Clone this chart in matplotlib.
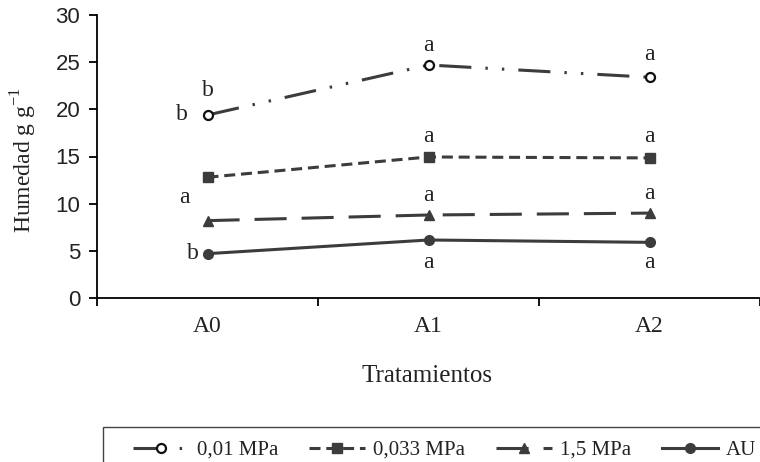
import matplotlib
matplotlib.use('Agg')
import matplotlib.pyplot as plt
from matplotlib.patches import Rectangle

tratamientos = ["A0", "A1", "A2"]
mpa_001 = [19.4, 24.7, 23.4]
mpa_0033 = [12.8, 14.95, 14.85]
mpa_15 = [8.2, 8.8, 9.0]
au = [4.7, 6.15, 5.9]

# significance letters: (x offset from category, category index, y, text)
letras = [
    (0.0, 0, 22.0, "b"), (-0.117, 0, 19.4, "b"), (-0.104, 0, 10.7, "a"), (-0.065, 0, 4.75, "b"),
    (0.0, 1, 26.8, "a"), (0.0, 1, 17.1, "a"), (0.0, 1, 10.9, "a"), (0.0, 1, 3.8, "a"),
    (0.0, 2, 25.8, "a"), (0.0, 2, 17.1, "a"), (0.0, 2, 11.1, "a"), (0.0, 2, 3.8, "a"),
]

gris = "#3c3c3c"
serif = "Liberation Serif"
sans = "Liberation Sans"

fig = plt.figure(figsize=(7.6, 4.62), dpi=100)
ax = fig.add_axes([97 / 760, 164 / 462, 1 - 97 / 760, 283 / 462])

xs = [0.5, 1.5, 2.5]
lw = 2.2
ax.plot(xs, mpa_001, color=gris, lw=lw, ls=(0, (10.5, 4.6, 0.8, 4.6, 0.8, 4.6)),
        marker="o", mfc="white", mec="#111111", mew=1.6, ms=6.5, label="0,01 MPa")
ax.plot(xs, mpa_0033, color=gris, lw=lw, ls=(0, (3.6, 1.9)),
        marker="s", mfc=gris, mec=gris, ms=6.5, label="0,033 MPa")
ax.plot(xs, mpa_15, color=gris, lw=lw, ls=(0, (10.5, 4.9)),
        marker="^", mfc=gris, mec=gris, ms=6.5, label="1,5 MPa")
ax.plot(xs, au, color=gris, lw=lw, ls="-",
        marker="o", mfc=gris, mec=gris, ms=7, label="AU")

for dx, i, y, t in letras:
    ax.text(xs[i] + dx, y, t, ha="center", va="center",
            fontsize=17, family=serif, color="#222222")

ax.set_xlim(0, 663 / 230)
ax.set_ylim(0, 30)
ax.set_yticks(range(0, 31, 5))
ax.set_xticks([0, 1, 2, 3])
ax.set_xticklabels([])
ax.set_xticks(xs, minor=True)
ax.set_xticklabels(tratamientos, minor=True, fontsize=17, family=serif, color="#222222")
ax.tick_params(axis="x", which="minor", length=0, pad=13)
ax.tick_params(axis="x", which="major", length=6, direction="out", width=1.3)
ax.tick_params(axis="y", length=6, direction="out", width=1.3, labelsize=16, pad=6,
               labelcolor="#222222")
for lab in ax.get_yticklabels():
    lab.set_family(sans)
ax.spines["top"].set_visible(False)
ax.spines["right"].set_visible(False)
ax.spines["left"].set_linewidth(1.3)
ax.spines["bottom"].set_linewidth(1.3)

fig.text(24 / 760, 1 - 160 / 462, "Humedad g g$^{\\mathregular{-1}}$", rotation=90,
         ha="center", va="center", fontsize=17, family=serif, color="#222222")
fig.text(427 / 760, 1 - 376 / 462, "Tratamientos", ha="center", va="center",
         fontsize=18, family=serif, color="#222222")

leg = fig.legend(loc="center left", bbox_to_anchor=(133 / 760, 1 - 450 / 462),
                 ncol=4, frameon=False, prop={"family": serif, "size": 15},
                 handlelength=2.7, columnspacing=1.5, handletextpad=0.35,
                 borderpad=0, borderaxespad=0)
for txt in leg.get_texts():
    txt.set_color("#222222")
fig.patches.append(Rectangle((103 / 760, -0.05), 0.95, 0.05 + 35 / 462,
                             transform=fig.transFigure, fill=False,
                             edgecolor="#444444", lw=1.0))

plt.savefig("out.png", dpi=100)
